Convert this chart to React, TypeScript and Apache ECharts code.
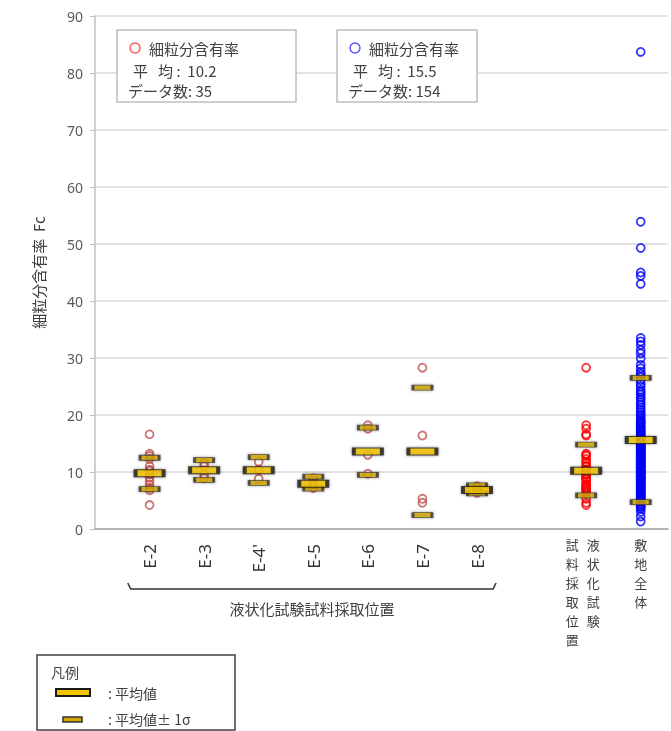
import React, { useEffect, useRef } from "react";
import * as echarts from "echarts";

// ---- data ----
const categories = ["E-2", "E-3", "E-4'", "E-5", "E-6", "E-7", "E-8"];
const fcE2 = [16.6, 13.2, 12.8, 12.3, 11.0, 10.4, 10.2, 9.6, 9.0, 8.4, 7.8, 7.2, 6.8, 4.2];
const fcE3 = [11.6, 11.0, 9.5, 8.9];
const fcE4 = [11.8, 10.4, 8.8];
const fcE5 = [8.9, 7.9, 7.2];
const fcE6 = [18.2, 17.6, 13.0, 9.7];
const fcE7 = [28.3, 16.4, 5.3, 4.6];
const fcE8 = [7.5, 6.8, 6.3];
const samplesByLocation = [fcE2, fcE3, fcE4, fcE5, fcE6, fcE7, fcE8];
const locationMean = [9.8, 10.3, 10.3, 7.95, 13.6, 13.6, 6.85];
const locationPlusSigma = [12.5, 12.1, 12.6, 9.2, 17.8, 24.8, 7.65];
const locationMinusSigma = [7.0, 8.6, 8.1, 7.1, 9.5, 2.45, 6.25];

const combinedLabelCols = ["液状化試験", "試料採取位置"];
const combinedStats = { mean: 10.2, plus: 14.8, minus: 5.9 };
const siteLabel = "敷地全体";
const siteStats = { mean: 15.6, plus: 26.5, minus: 4.7 };
const siteFc = [
  4.2, 4.8, 5.0, 5.3, 5.6, 5.9, 6.0, 6.2, 6.5, 6.8, 6.9, 7.0, 7.2, 7.4, 7.7, 7.9, 8.0, 8.1, 8.3, 8.6,
  8.8, 8.9, 9.0, 9.2, 9.4, 9.5, 9.7, 9.8, 10.0, 10.1, 10.3, 10.4, 10.6, 10.8, 10.9, 11.0, 11.2, 11.3, 11.5, 11.7,
  11.8, 12.0, 12.1, 12.3, 12.4, 12.6, 12.8, 12.9, 13.0, 13.2, 13.4, 13.5, 13.7, 13.9, 14.0, 14.2, 14.3, 14.5, 14.7, 14.8,
  15.0, 15.1, 15.3, 15.6, 15.8, 15.9, 16.1, 16.4, 16.6, 16.8, 17.0, 17.3, 17.5, 17.8, 18.0, 18.2, 18.5, 18.9, 19.1, 19.4,
  19.8, 20.1, 20.5, 20.9, 21.3, 21.8, 22.2, 22.7, 23.1, 23.6, 24.0, 24.4, 25.0, 25.5, 26.1, 26.7, 27.2,
  3.5, 3.8, 4.0, 4.5, 5.1, 5.4, 5.8, 6.3, 6.6, 7.1, 7.5, 7.6, 8.2, 8.4, 8.7, 9.1, 9.3, 9.6, 9.9, 10.2,
  10.5, 10.7, 11.1, 11.4, 11.6, 11.9, 12.2, 12.5, 12.7, 13.1, 13.3, 13.6, 14.1, 14.4, 14.9, 15.4, 16.2, 17.1, 18.7,
  83.7, 53.9, 49.3, 45.0, 44.4, 43.0, 33.5, 32.9, 32.3, 31.4, 30.8, 29.9, 28.8, 28.2, 27.6, 3.0, 2.2, 1.3,
];
const summaryBoxes = [
  { mean: "10.2", count: "35", color: "#ff5a5a" },
  { mean: "15.5", count: "154", color: "#5a5aff" },
];
const yMin = 0;
const yMax = 90;
const yInterval = 10;
const yTitle = "細粒分含有率  Fc";
const groupTitle = "液状化試験試料採取位置";

const FONT = "'Noto Sans', 'Noto Sans CJK JP', sans-serif";
const JP = "'Noto Sans CJK JP', sans-serif";

export default function App() {
  const ref = useRef<HTMLDivElement>(null);
  useEffect(() => {
    if (!ref.current) return;
    const chart = echarts.init(ref.current, null, { renderer: "svg" });
    const combinedX = categories.length + 2;
    const siteX = categories.length + 3;

    const sampleData: number[][] = [];
    samplesByLocation.forEach((arr, i) => arr.forEach((v) => sampleData.push([i + 1, v])));
    const combinedData: number[][] = [];
    samplesByLocation.forEach((arr) => arr.forEach((v) => combinedData.push([combinedX, v])));
    const siteData = siteFc.map((v) => [siteX, v]);

    const sigmaData: number[][] = [];
    categories.forEach((_, i) => {
      sigmaData.push([i + 1, locationPlusSigma[i]]);
      sigmaData.push([i + 1, locationMinusSigma[i]]);
    });
    sigmaData.push([combinedX, combinedStats.plus], [combinedX, combinedStats.minus]);
    sigmaData.push([siteX, siteStats.plus], [siteX, siteStats.minus]);
    const meanData = categories.map((_, i) => [i + 1, locationMean[i]]);
    meanData.push([combinedX, combinedStats.mean], [siteX, siteStats.mean]);

    const hollow = (c: string) => ({ color: "rgba(0,0,0,0)", borderColor: c, borderWidth: 1.8 });

    chart.setOption({
      animation: false,
      grid: { left: 95, right: 3, top: 16, bottom: 202 },
      xAxis: {
        type: "value",
        min: 0,
        max: 10.5,
        interval: 1,
        splitLine: { show: false },
        axisTick: { show: false },
        axisLine: { show: true, lineStyle: { color: "#a6a6a6", width: 1.5 } },
        axisLabel: {
          rotate: 90,
          margin: 15,
          fontSize: 17,
          color: "#333",
          fontFamily: FONT,
          formatter: (v: number) => (v >= 1 && v <= categories.length ? categories[v - 1] : ""),
        },
      },
      yAxis: {
        type: "value",
        min: yMin,
        max: yMax,
        interval: yInterval,
        name: yTitle,
        nameLocation: "middle",
        nameGap: 49,
        nameTextStyle: { fontSize: 15, color: "#404040", fontFamily: JP },
        axisLine: { show: true, lineStyle: { color: "#bfbfbf", width: 1.5 } },
        axisTick: { show: true, length: 5, lineStyle: { color: "#bfbfbf" } },
        axisLabel: { fontSize: 14, color: "#595959", margin: 12, fontFamily: FONT },
        splitLine: { lineStyle: { color: "#d9d9d9", width: 1.5 } },
      },
      series: [
        { type: "scatter", silent: true, data: sampleData, symbol: "circle", symbolSize: 8, itemStyle: hollow("#c0504d") },
        { type: "scatter", silent: true, data: combinedData, symbol: "circle", symbolSize: 8, itemStyle: hollow("#ff0000") },
        { type: "scatter", silent: true, data: siteData, symbol: "circle", symbolSize: 8, itemStyle: hollow("#0000ff") },
        {
          type: "scatter",
          silent: true,
          data: sigmaData,
          symbol: "rect",
          symbolSize: [19, 5],
          itemStyle: {
            color: "#d2a600",
            borderColor: "#333",
            borderWidth: 1.5,
            shadowBlur: 3,
            shadowColor: "rgba(0,0,0,0.45)",
          },
        },
        {
          type: "scatter",
          silent: true,
          data: meanData,
          symbol: "rect",
          symbolSize: [28, 7],
          itemStyle: {
            color: "#f5c400",
            borderColor: "#1a1a1a",
            borderWidth: 2,
            shadowBlur: 3,
            shadowColor: "rgba(0,0,0,0.5)",
          },
        },
      ],
    });

    const px = (x: number) => chart.convertToPixel({ gridIndex: 0 }, [x, 0])[0];
    const bx0 = px(0.6);
    const bx1 = px(7.35);
    const cx = px(combinedX);
    const sx = px(siteX);
    const textStyle = (t: string, x: number, y: number, size = 15, align = "left") => ({
      type: "text",
      x,
      y,
      style: { text: t, fontSize: size, fill: "#404040", fontFamily: JP, align, verticalAlign: "middle" },
    });
    const vertical = (s: string) => s.split("").join("\n");
    const vText = (s: string, x: number) => ({
      type: "text",
      x,
      y: 535,
      style: { text: vertical(s), fontSize: 13, lineHeight: 19, fill: "#404040", fontFamily: JP, align: "center", verticalAlign: "top" },
    });

    const boxes: any[] = [];
    const boxGeom = [
      { x: 117, w: 179 },
      { x: 337, w: 140 },
    ];
    summaryBoxes.forEach((b, i) => {
      const g = boxGeom[i];
      boxes.push({
        type: "group",
        children: [
          {
            type: "rect",
            shape: { x: g.x, y: 30, width: g.w, height: 72 },
            style: { fill: "#fff", stroke: "#bfbfbf", lineWidth: 1.5 },
          },
          { type: "circle", shape: { cx: g.x + 18, cy: 48, r: 5 }, style: { fill: "none", stroke: b.color, lineWidth: 1.5 } },
          textStyle("細粒分含有率", g.x + 32, 48),
          textStyle("平   均 :  " + b.mean, g.x + 16, 70),
          textStyle("データ数: " + b.count, g.x + 11, 90),
        ],
      });
    });

    chart.setOption({
      graphic: [
        ...boxes,
        {
          type: "polyline",
          shape: { points: [[bx0, 583], [bx0 + 3, 589], [bx1 - 3, 589], [bx1, 583]] },
          style: { stroke: "#333", lineWidth: 1.5, fill: "none" },
        },
        textStyle(groupTitle, (bx0 + bx1) / 2, 608, 15, "center"),
        vText(combinedLabelCols[0], cx + 7),
        vText(combinedLabelCols[1], cx - 14),
        vText(siteLabel, sx),
        {
          type: "group",
          children: [
            { type: "rect", shape: { x: 37, y: 655, width: 198, height: 75 }, style: { fill: "#fff", stroke: "#404040", lineWidth: 1.5 } },
            textStyle("凡例", 51, 672, 14),
            { type: "rect", shape: { x: 56, y: 689, width: 34, height: 7 }, style: { fill: "#f5c400", stroke: "#1a1a1a", lineWidth: 2 } },
            { type: "rect", shape: { x: 63, y: 717, width: 19, height: 5 }, style: { fill: "#d2a600", stroke: "#333", lineWidth: 1.5 } },
            textStyle(": 平均値", 108, 693, 14),
            textStyle(": 平均値± 1σ", 108, 719, 14),
          ],
        },
      ],
    });

    return () => chart.dispose();
  }, []);
  return <div ref={ref} style={{ position: "fixed", left: 0, top: 0, width: 671, height: 731 }} />;
}
